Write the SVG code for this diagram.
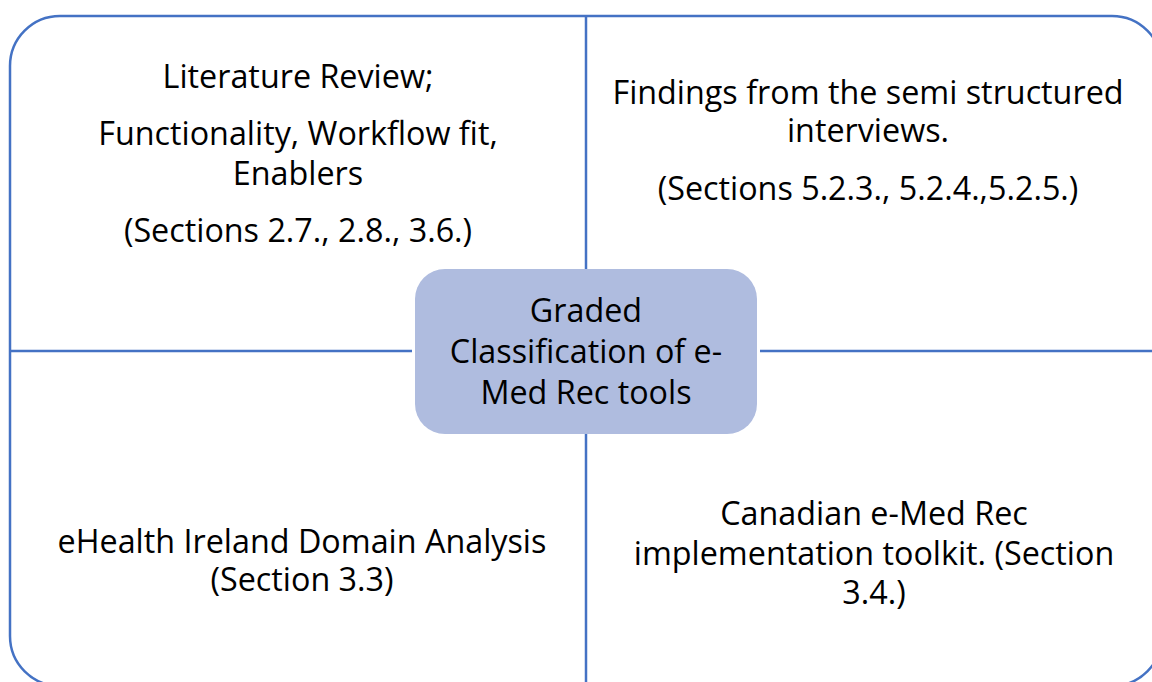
<svg xmlns="http://www.w3.org/2000/svg" width="1152" height="682" viewBox="0 0 1152 682">
<style>
.ln{stroke:#4472C4;stroke-width:2.5;fill:none}
.t{font-family:"Open Sans","Liberation Sans",sans-serif;font-size:32.3px;fill:#000;text-anchor:middle}
</style>
<rect width="1152" height="682" fill="#fff"/>
<g id="connectors">
<rect class="ln" x="10" y="16" width="1152" height="670" rx="50" ry="50"/>
<line class="ln" x1="586" y1="16" x2="586" y2="269" stroke-width="3"/>
<line class="ln" x1="586" y1="434" x2="586" y2="686" stroke-width="3"/>
<line class="ln" x1="10" y1="351" x2="412" y2="351"/>
<line class="ln" x1="760" y1="351" x2="1162" y2="351"/>
</g>
<g id="center">
<rect x="415" y="269" width="342" height="165" rx="30" ry="30" fill="#AFBCDF"/>
<text class="t" x="586" y="322">Graded</text>
<text class="t" x="586" y="363">Classification of e-</text>
<text class="t" x="586" y="404">Med Rec tools</text>
</g>
<g id="literature">
<text class="t" x="298" y="88">Literature Review;</text>
<text class="t" x="298" y="145">Functionality, Workflow fit,</text>
<text class="t" x="298" y="185">Enablers</text>
<text class="t" x="298" y="242">(Sections 2.7., 2.8., 3.6.)</text>
</g>
<g id="findings">
<text class="t" x="868" y="104">Findings from the semi structured</text>
<text class="t" x="868" y="142">interviews.</text>
<text class="t" x="868" y="200">(Sections 5.2.3., 5.2.4.,5.2.5.)</text>
</g>
<g id="ehealth">
<text class="t" x="302" y="553">eHealth Ireland Domain Analysis</text>
<text class="t" x="302" y="591">(Section 3.3)</text>
</g>
<g id="canadian">
<text class="t" x="874" y="525">Canadian e-Med Rec</text>
<text class="t" x="874" y="565">implementation toolkit. (Section</text>
<text class="t" x="874" y="604">3.4.)</text>
</g>
</svg>
